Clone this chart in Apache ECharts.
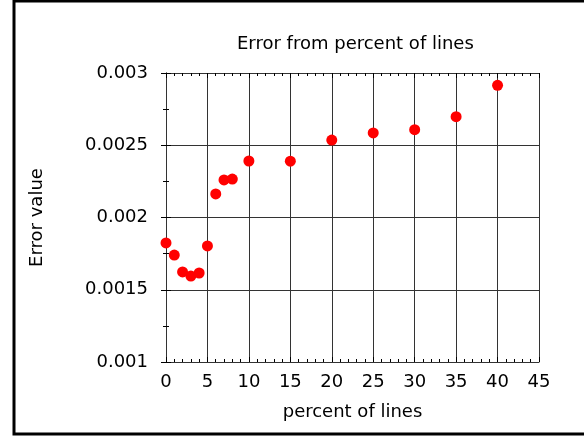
<!DOCTYPE html>
<html><head><meta charset="utf-8">
<script src="https://cdn.jsdelivr.net/npm/echarts@6/dist/echarts.min.js"></script>
<style>html,body{margin:0;padding:0;background:#fff}#c{width:584px;height:436px}</style>
</head><body><div id="c"></div>
<script>
const percentOfLines = [0, 1, 2, 3, 4, 5, 6, 7, 8, 10, 15, 20, 25, 30, 35, 40];
const errorValues = [0.001824, 0.00174, 0.001623, 0.001595, 0.001616, 0.001803, 0.002163, 0.00226, 0.002266, 0.002391, 0.00239, 0.002536, 0.002585, 0.002608, 0.002698, 0.002915];
const yTickLabels = ['0.001', '0.0015', '0.002', '0.0025', '0.003'];

const chart = echarts.init(document.getElementById('c'), null, {renderer: 'canvas'});
const font = 'DejaVu Sans';
const axisLine = {show: true, lineStyle: {color: '#333', width: 1}};
const axisTick = {show: true, inside: true, length: 5, lineStyle: {color: '#000'}};
const minorX = {show: true, splitNumber: 5, length: 3, lineStyle: {color: '#000'}};
const minorY = {show: true, splitNumber: 2, length: 3, lineStyle: {color: '#000'}};
chart.setOption({
  animation: false,
  backgroundColor: '#fff',
  textStyle: {fontFamily: font},
  title: {
    text: 'Error from percent of lines',
    left: 232, top: 30,
    textStyle: {fontFamily: font, fontSize: 18, fontWeight: 'normal', color: '#000'}
  },
  grid: {left: 166, right: 45, top: 73, bottom: 74, containLabel: false},
  xAxis: [{
    type: 'value', min: 0, max: 45, interval: 5, position: 'bottom',
    name: 'percent of lines', nameLocation: 'middle', nameGap: 41,
    nameTextStyle: {fontFamily: font, fontSize: 18, color: '#000'},
    axisLabel: {fontFamily: font, fontSize: 18, color: '#000', margin: 11},
    splitLine: {show: true, lineStyle: {color: '#333', width: 1}},
    minorTick: minorX, axisLine: axisLine, axisTick: axisTick
  }, {
    type: 'value', min: 0, max: 45, interval: 5, position: 'top',
    axisLabel: {show: false}, splitLine: {show: false},
    minorTick: minorX, axisLine: axisLine, axisTick: axisTick
  }],
  yAxis: [{
    type: 'value', min: 0.001, max: 0.003, interval: 0.0005, position: 'left',
    name: 'Error value', nameLocation: 'middle', nameGap: 120, nameRotate: 90,
    nameTextStyle: {fontFamily: font, fontSize: 18, color: '#000'},
    axisLabel: {fontFamily: font, fontSize: 18, color: '#000', margin: 18,
      formatter: function (v) {
        const i = Math.round((v - 0.001) / 0.0005);
        return yTickLabels[i] !== undefined ? yTickLabels[i] : '';
      }},
    splitLine: {show: true, lineStyle: {color: '#333', width: 1}},
    minorTick: minorY, axisLine: axisLine, axisTick: axisTick
  }, {
    type: 'value', min: 0.001, max: 0.003, interval: 0.0005, position: 'right',
    axisLabel: {show: false}, splitLine: {show: false},
    minorTick: minorY, axisLine: axisLine, axisTick: axisTick
  }],
  series: [{
    type: 'scatter',
    xAxisIndex: 0, yAxisIndex: 0,
    data: percentOfLines.map((x, i) => [x, errorValues[i]]),
    symbol: 'circle', symbolSize: 11,
    itemStyle: {color: '#ff0000', opacity: 1}
  }],
  graphic: [{
    type: 'rect', silent: true,
    shape: {x: 14, y: 1, width: 620, height: 433},
    style: {fill: 'none', stroke: '#000', lineWidth: 3}
  }]
});
</script></body></html>
